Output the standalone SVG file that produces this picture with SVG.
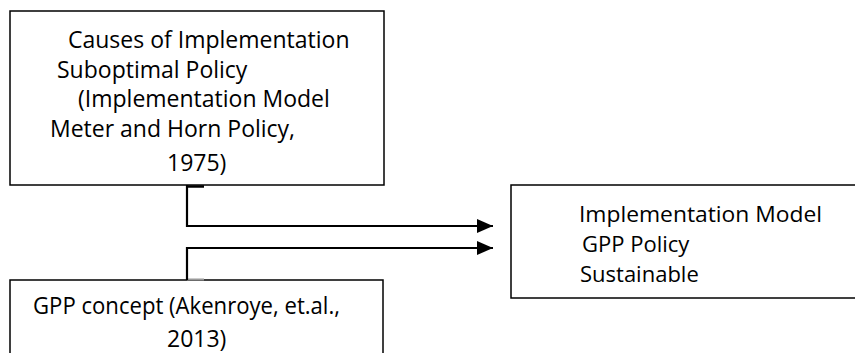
<svg xmlns="http://www.w3.org/2000/svg" width="855" height="353" viewBox="0 0 855 353">
<defs>
<style>
.box{fill:#fff;stroke:#000;stroke-width:1.5}
.t{font-family:"Open Sans","Noto Sans",sans-serif;font-size:23px;fill:#000}
.r{font-size:22px}
.c{fill:none;stroke:#000;stroke-width:2.2}
.tab{stroke:#000;stroke-width:2.5}
</style>
<marker id="ah" markerWidth="16" markerHeight="14" refX="16" refY="7" orient="auto" markerUnits="userSpaceOnUse">
<path d="M0,0 L16,7 L0,14 Z" fill="#000"/>
</marker>
</defs>
<rect width="855" height="353" fill="#fff"/>
<g id="causes">
<rect class="box" x="10" y="11" width="374" height="174"/>
<text class="t" x="68" y="48">Causes of Implementation</text>
<text class="t" x="57" y="78">Suboptimal Policy</text>
<text class="t" x="78" y="107">(Implementation Model</text>
<text class="t" x="50" y="137">Meter and Horn Policy,</text>
<text class="t" x="167" y="171">1975)</text>
</g>
<g id="gpp">
<rect class="box" x="10" y="280" width="373" height="90"/>
<text class="t" x="33" y="314" textLength="307" lengthAdjust="spacingAndGlyphs">GPP concept (Akenroye, et.al.,</text>
<text class="t" x="167" y="347">2013)</text>
</g>
<g id="model">
<rect class="box" x="511" y="185" width="360" height="113"/>
<text class="t r" x="579" y="222" textLength="243" lengthAdjust="spacingAndGlyphs">Implementation Model</text>
<text class="t r" x="582" y="252">GPP Policy</text>
<text class="t r" x="580" y="282">Sustainable</text>
</g>
<g id="connectors">
<line class="tab" x1="187" y1="186.5" x2="204" y2="186.5"/>
<path class="c" d="M187,185 V226 H493" marker-end="url(#ah)"/>
<line x1="187" y1="279.5" x2="204" y2="279.5" stroke="#999" stroke-width="2"/>
<path class="c" d="M187,280 V248 H493" marker-end="url(#ah)"/>
</g>
</svg>
